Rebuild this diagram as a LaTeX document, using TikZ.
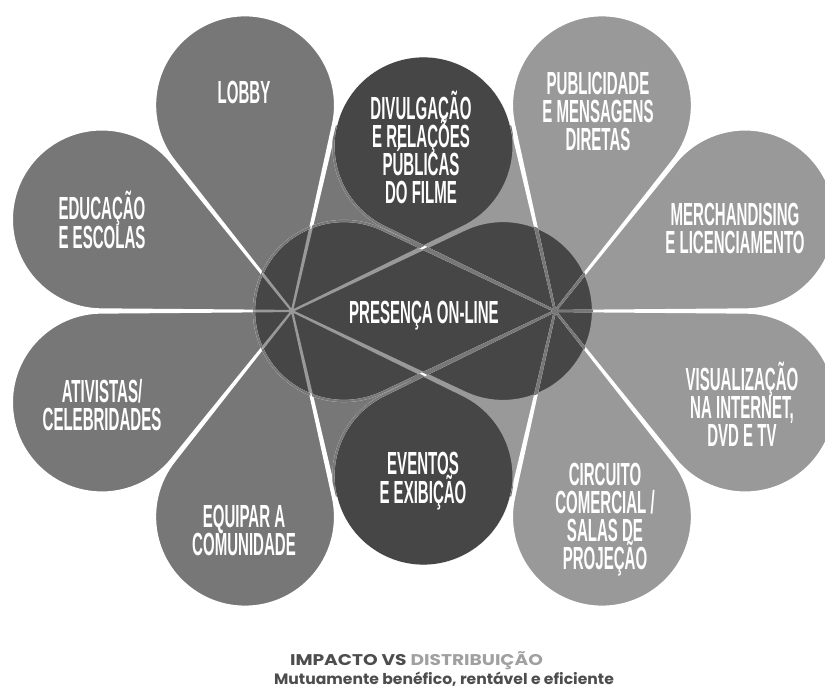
\documentclass[tikz,border=0pt]{standalone}
\usepackage{fontspec}
\newfontfamily\petfont[FakeStretch=0.47]{Liberation Sans}
\newfontfamily\capfont[FakeStretch=1.2]{Poppins}
\newfontfamily\subfont[FakeStretch=1.04]{Poppins}
\definecolor{lgray}{HTML}{777777}
\definecolor{rgray}{HTML}{999999}
\definecolor{dgray}{HTML}{464646}
\definecolor{tdark}{HTML}{4D4D4D}
\definecolor{tlight}{HTML}{A0A0A0}
\newcommand\petal[2]{(#1) -- ++(#2-25.25:190.85) arc[start angle=#2-115.25, end angle=#2+115.25, radius=90] -- cycle}
\newcommand\leftflower{\foreach \k in {0,...,6}{\petal{L}{\k*51.428571}}}
\newcommand\rightflower{\foreach \k in {0,...,6}{\petal{R}{180+\k*51.428571}}}
\newcommand\sm[1]{\smash{#1}}
\begin{document}
\begin{tikzpicture}[x=1pt,y=1pt,line join=round,
  stroke/.style={line width=2.2pt},
  lbl/.style={text=white, font=\petfont\bfseries\fontsize{32}{28.3}\selectfont, align=center, inner sep=0pt},
  title/.style={anchor=base, inner sep=0pt, font=\capfont\bfseries\fontsize{15.5}{18}\selectfont},
  subtitle/.style={anchor=base, inner sep=0pt, text=tdark, font=\subfont\bfseries\fontsize{15}{18}\selectfont}]
\useasboundingbox (0,0) rectangle (825,691);
\fill[white] (0,0) rectangle (825,691);
\clip (0,0) rectangle (825,691);
\coordinate (L) at (292,380);
\coordinate (R) at (555,380);
\coordinate (Cdiv) at ([shift={(51.428571:211)}]L);
\coordinate (Cevt) at ([shift={(-51.428571:211)}]L);
% left flower
\fill[lgray] \leftflower;
\draw[white,stroke] \leftflower;
% right flower (multiplied)
\fill[rgray] \rightflower;
\begin{scope}
  \clip \leftflower;
  \fill[dgray] \rightflower;
\end{scope}
\begin{scope}
  \clip \rightflower;
  \draw[rgray,stroke] \leftflower;
\end{scope}
\draw[white,stroke] \rightflower;
\begin{scope}
  \clip \leftflower;
  \draw[lgray,stroke] \rightflower;
\end{scope}
% shared outlines of the two common circles
\draw[white,stroke] (Cdiv) ++(13.3:90) arc[start angle=13.3, end angle=166.7, radius=90];
\draw[white,stroke] (Cevt) ++(193.3:90) arc[start angle=193.3, end angle=346.7, radius=90];
% labels
\node[lbl] (lobby) at (244,587) {\sm{LOBBY}};
\node[lbl] (edu) at (102,457) {\sm{EDUCAÇÃO}\\\sm{E ESCOLAS}};
\node[lbl] (div) at (421,529.5) {\sm{DIVULGAÇÃO}\\\sm{E RELAÇÕES}\\\sm{PÚBLICAS}\\\sm{DO FILME}};
\node[lbl] (pub) at (598,568.5) {\sm{PUBLICIDADE}\\\sm{E MENSAGENS}\\\sm{DIRETAS}};
\node[lbl] (mer) at (735,451.5) {\sm{MERCHANDISING}\\\sm{E LICENCIAMENTO}};
\node[lbl] (pres) at (424,367.5) {\sm{PRESENÇA ON-LINE}};
\node[lbl] (ativ) at (102,274.5) {\sm{ATIVISTAS/}\\\sm{CELEBRIDADES}};
\node[lbl] (equip) at (244,149.5) {\sm{EQUIPAR A}\\\sm{COMUNIDADE}};
\node[lbl] (evt) at (423,202) {\sm{EVENTOS}\\\sm{E EXIBIÇÃO}};
\node[lbl] (circ) at (605,163.5) {\sm{CIRCUITO}\\\sm{COMERCIAL /}\\\sm{SALAS DE}\\\sm{PROJEÇÃO}};
\node[lbl] (vis) at (742,272.5) {\sm{VISUALIZAÇÃO}\\\sm{NA INTERNET,}\\\sm{DVD E TV}};
% caption
\node[title] (cap1) at (416.5,25.5) {\textcolor{tdark}{IMPACTO VS} \textcolor{tlight}{DISTRIBUIÇÃO}};
\node[subtitle] (cap2) at (444,6) {Mutuamente benéfico, rentável e eficiente};
\end{tikzpicture}
\end{document}
